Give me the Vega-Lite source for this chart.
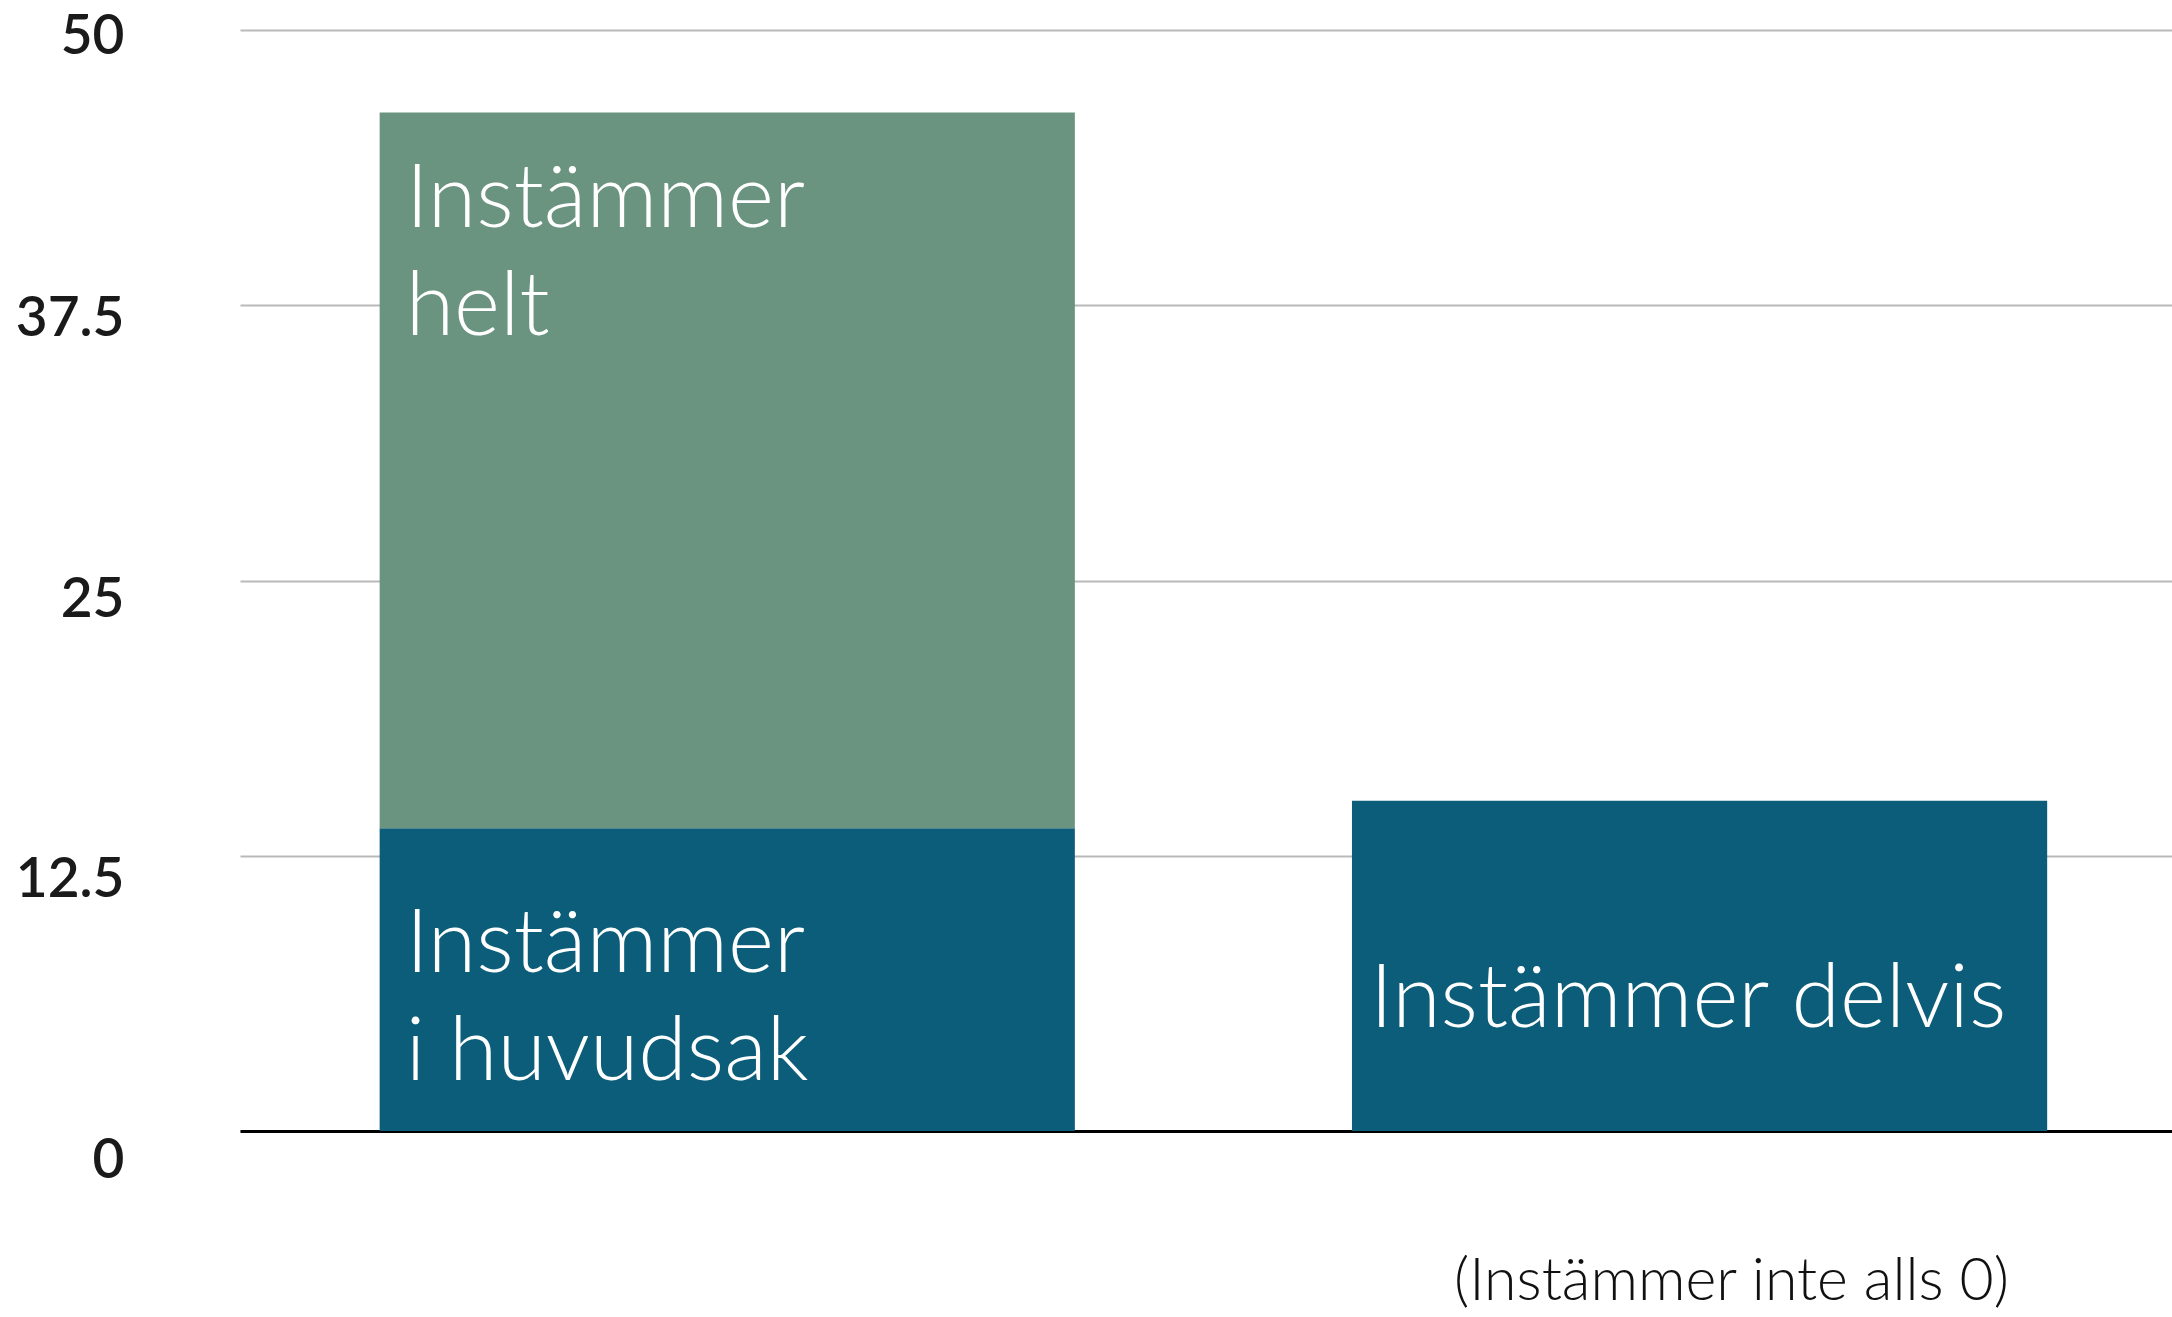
{
  "$schema": "https://vega.github.io/schema/vega-lite/v6.json",
  "autosize": "none",
  "width": 1932,
  "height": 1101,
  "padding": {"left": 240, "top": 30, "right": 0, "bottom": 186},
  "background": "white",
  "config": {"view": {"stroke": null}, "font": "Lato"},
  "data": {
    "values": [
      {"kategori": "A", "segment": "Instämmer i huvudsak", "ordning": 1, "andel": 13.75, "rader": ["Instämmer", "i huvudsak"]},
      {"kategori": "A", "segment": "Instämmer helt", "ordning": 2, "andel": 32.5, "rader": ["Instämmer", "helt"]},
      {"kategori": "B", "segment": "Instämmer delvis", "ordning": 1, "andel": 15, "rader": ["Instämmer delvis"]}
    ]
  },
  "transform": [
    {"window": [{"op": "sum", "field": "andel", "as": "topp"}], "groupby": ["kategori"], "sort": [{"field": "ordning", "order": "ascending"}]}
  ],
  "encoding": {
    "x": {
      "field": "kategori",
      "type": "nominal",
      "scale": {"paddingInner": 0.285, "paddingOuter": 0.136, "align": 0.528},
      "axis": {
        "labels": false,
        "ticks": false,
        "domain": true,
        "domainColor": "#000000",
        "domainWidth": 3,
        "grid": false,
        "title": "(Instämmer inte alls 0)",
        "titleFont": "Lato",
        "titleFontWeight": 300,
        "titleFontSize": 59,
        "titleColor": "#111111",
        "titleX": 1491,
        "titleY": 168,
        "titleAlign": "center",
        "titleBaseline": "alphabetic",
        "titleAnchor": null
      }
    }
  },
  "layer": [
    {
      "mark": {"type": "bar"},
      "encoding": {
        "y": {
          "field": "andel",
          "type": "quantitative",
          "stack": "zero",
          "scale": {"domain": [0, 50], "nice": false},
          "axis": {
            "values": [0, 12.5, 25, 37.5, 50],
            "labelExpr": "'' + datum.value",
            "title": null,
            "domain": false,
            "ticks": false,
            "grid": true,
            "gridColor": "#b9b9b9",
            "gridWidth": 2,
            "labelFont": "Lato",
            "labelFontSize": 55,
            "labelFontWeight": 600,
            "labelColor": "#1a1a1a",
            "labelPadding": 116,
            "labelOffset": {
              "condition": [
                {"test": "datum.value == 0", "value": 29},
                {"test": "datum.value == 12.5", "value": 24},
                {"test": "datum.value == 25", "value": 19},
                {"test": "datum.value == 37.5", "value": 13}
              ],
              "value": 6
            }
          }
        },
        "color": {
          "field": "segment",
          "type": "nominal",
          "scale": {
            "domain": ["Instämmer i huvudsak", "Instämmer helt", "Instämmer delvis"],
            "range": ["#0b5d79", "#6a9480", "#0b5d79"]
          },
          "legend": null
        },
        "order": {"field": "ordning", "type": "quantitative"}
      }
    },
    {
      "transform": [{"filter": "datum.segment == 'Instämmer helt'"}],
      "mark": {"type": "text", "align": "left", "baseline": "alphabetic", "font": "Lato", "fontWeight": 300, "fontSize": 88, "lineHeight": 108, "color": "white", "dx": 26, "dy": 114},
      "encoding": {
        "x": {"field": "kategori", "type": "nominal", "bandPosition": 0},
        "y": {"field": "topp", "type": "quantitative"},
        "text": {"field": "rader"}
      }
    },
    {
      "transform": [{"filter": "datum.segment == 'Instämmer i huvudsak'"}],
      "mark": {"type": "text", "align": "left", "baseline": "alphabetic", "font": "Lato", "fontWeight": 300, "fontSize": 88, "lineHeight": 108, "color": "white", "dx": 26, "dy": 144},
      "encoding": {
        "x": {"field": "kategori", "type": "nominal", "bandPosition": 0},
        "y": {"field": "topp", "type": "quantitative"},
        "text": {"field": "rader"}
      }
    },
    {
      "transform": [{"filter": "datum.segment == 'Instämmer delvis'"}],
      "mark": {"type": "text", "align": "left", "baseline": "alphabetic", "font": "Lato", "fontWeight": 300, "fontSize": 88, "lineHeight": 108, "color": "white", "dx": 18, "dy": 226},
      "encoding": {
        "x": {"field": "kategori", "type": "nominal", "bandPosition": 0},
        "y": {"field": "topp", "type": "quantitative"},
        "text": {"field": "rader"}
      }
    }
  ]
}
